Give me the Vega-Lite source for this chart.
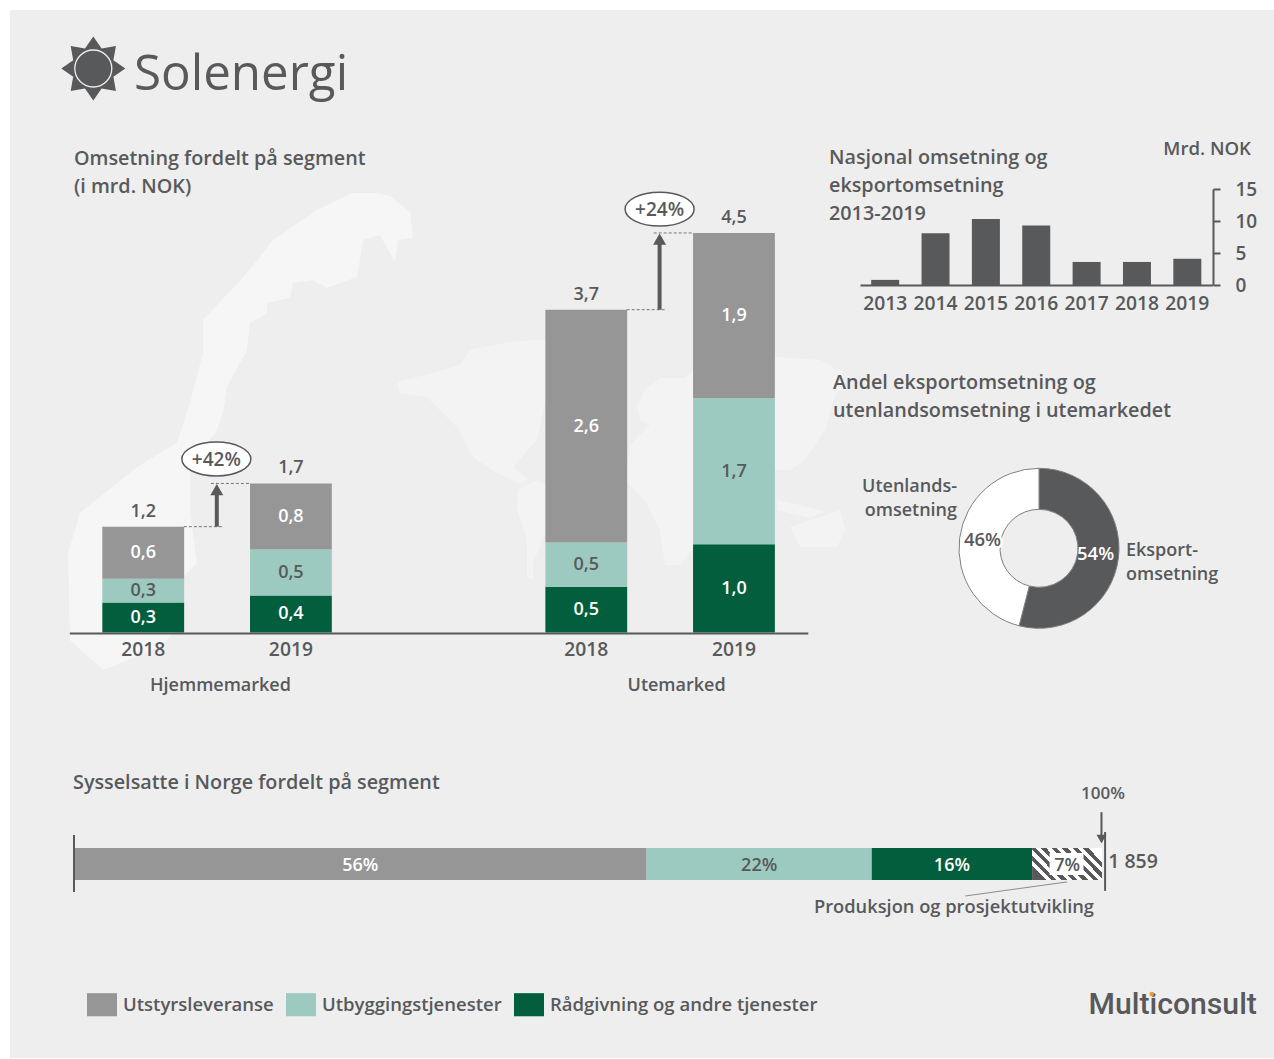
{"$schema":"https://vega.github.io/schema/vega-lite/v6.json","width":1274,"height":1059,"autosize":{"type":"none"},"padding":0,"background":"#ffffff",
"config":{"view":{"stroke":null},"font":"Open Sans","text":{"font":"Open Sans","fontWeight":600,"color":"#58595b","baseline":"middle","dy":1.5},"axis":{"labelFont":"Open Sans","labelFontWeight":600,"labelColor":"#58595b","domainColor":"#58595b","tickColor":"#58595b","grid":false,"title":null}},
"resolve":{"scale":{"x":"independent","y":"independent","color":"independent","theta":"independent"}},
"layer":[
{"data":{"values":[{"panel":"background"}]},"mark":{"type":"rect","x":10,"y":10,"x2":1274,"y2":1058,"fill":"#eeeeee"},"encoding":{}},
{"data":{"values":[{"shape":"Norge"}]},"mark":{"type":"point","x":0,"y":0,"size":4,"filled":true,"fill":"#f6f6f6","opacity":1,"strokeWidth":0,"shape":"M377 193 L390 196 L410 212 L413 238 L398 240 L395 262 L380 235 L363 240 L357 277 L327 288 L313 280 L293 283 L290 298 L267 303 L267 313 L250 323 L247 350 L227 387 L223 413 L217 430 L190 467 L190 513 L197 563 L180 580 L173 633 L160 647 L103 670 L70 640 L68 553 L80 513 L137 467 L177 443 L190 403 L203 353 L203 320 L247 273 L273 240 L317 210 L353 193 Z"},"encoding":{}},
{"data":{"values":[{"shape":"Verden"}]},"mark":{"type":"point","x":0,"y":0,"size":4,"filled":true,"fill":"#f3f3f3","opacity":1,"strokeWidth":0,"shape":"M397 382 L425 375 L460 365 L470 350 L510 342 L600 335 L620 350 L590 385 L547 393 L537 440 L513 467 L530 480 L518 483 L497 473 L473 457 L457 427 L427 397 L400 393 Z M518 490 L537 480 L570 500 L547 530 L533 563 L533 580 L527 577 L527 540 L517 510 Z M637 407 L645 390 L660 378 L685 378 L700 365 L777 357 L820 360 L842 372 L845 385 L835 395 L825 430 L805 460 L790 470 L770 470 L745 490 L735 470 L720 455 L700 440 L730 470 L715 490 L720 510 L700 540 L680 565 L665 565 L660 530 L645 500 L625 480 L630 445 L650 425 L640 420 Z M777 500 L800 505 L825 512 L810 518 L777 510 Z M790 527 L820 517 L840 510 L845 530 L837 547 L800 547 Z"},"encoding":{}},
{"data":{"values":[{"shape":"Sol"}]},"mark":{"type":"point","x":93.3,"y":68.5,"size":4096,"filled":true,"fill":"#58595b","opacity":1,"strokeWidth":0,"shape":"M0 -1 L0.26 -0.628 L0.707 -0.707 L0.628 -0.26 L1 0 L0.628 0.26 L0.707 0.707 L0.26 0.628 L0 1 L-0.26 0.628 L-0.707 0.707 L-0.628 0.26 L-1 0 L-0.628 -0.26 L-0.707 -0.707 L-0.26 -0.628 Z"},"encoding":{}},
{"data":{"values":[{"shape":"Solring"}]},"mark":{"type":"point","x":93.3,"y":68.5,"size":1369,"shape":"circle","filled":false,"stroke":"#eeeeee","opacity":1,"strokeWidth":1.3},"encoding":{}},
{"data":{"values":[{"label":"Solenergi"}]},"mark":{"type":"text","x":134,"y":73,"align":"left","fontSize":49.3,"fontWeight":400},"encoding":{"text":{"field":"label"}}},
{"data":{"values":[{"label":"Omsetning fordelt på segment\n(i mrd. NOK)"}]},"mark":{"type":"text","x":74,"y":157.5,"align":"left","fontSize":19.8,"lineHeight":28,"lineBreak":"\n"},"encoding":{"text":{"field":"label"}}},
{"data":{"values":[{"label":"Nasjonal omsetning og\neksportomsetning\n2013-2019"}]},"mark":{"type":"text","x":829,"y":156.5,"align":"left","fontSize":19.8,"lineHeight":28,"lineBreak":"\n"},"encoding":{"text":{"field":"label"}}},
{"data":{"values":[{"label":"Mrd. NOK"}]},"mark":{"type":"text","x":1251,"y":147.5,"align":"right","fontSize":18.6},"encoding":{"text":{"field":"label"}}},
{"data":{"values":[{"label":"Andel eksportomsetning og\nutenlandsomsetning i utemarkedet"}]},"mark":{"type":"text","x":833,"y":381.5,"align":"left","fontSize":19.8,"lineHeight":28,"lineBreak":"\n"},"encoding":{"text":{"field":"label"}}},
{"data":{"values":[{"label":"Sysselsatte i Norge fordelt på segment"}]},"mark":{"type":"text","x":73,"y":781.5,"align":"left","fontSize":19.8},"encoding":{"text":{"field":"label"}}},
{"data":{"values":[{"label":"Utenlands-\nomsetning"}]},"mark":{"type":"text","x":957,"y":485.5,"align":"right","fontSize":18,"lineHeight":23.5,"lineBreak":"\n"},"encoding":{"text":{"field":"label"}}},
{"data":{"values":[{"label":"Eksport-\nomsetning"}]},"mark":{"type":"text","x":1126,"y":549.5,"align":"left","fontSize":18,"lineHeight":23.5,"lineBreak":"\n"},"encoding":{"text":{"field":"label"}}},
{"data":{"values":[{"label":"Multiconsult"}]},"mark":{"type":"text","x":1088.5,"y":1003.5,"align":"left","font":"Roboto","fontSize":30.2,"fontWeight":500},"encoding":{"text":{"field":"label"}}},
{"data":{"values":[{"shape":"Logoprikk"}]},"mark":{"type":"point","x":1151.7,"y":994,"size":20,"shape":"circle","filled":true,"fill":"#f39a2b","opacity":1},"encoding":{}},
{"data":{"values":[
{"bar":"H2018","segment":"Rådgivning og andre tjenester","rank":1,"value":0.34},
{"bar":"H2018","segment":"Utbyggingstjenester","rank":2,"value":0.27},
{"bar":"H2018","segment":"Utstyrsleveranse","rank":3,"value":0.59},
{"bar":"H2019","segment":"Rådgivning og andre tjenester","rank":1,"value":0.42},
{"bar":"H2019","segment":"Utbyggingstjenester","rank":2,"value":0.52},
{"bar":"H2019","segment":"Utstyrsleveranse","rank":3,"value":0.75},
{"bar":"U2018","segment":"Rådgivning og andre tjenester","rank":1,"value":0.52},
{"bar":"U2018","segment":"Utbyggingstjenester","rank":2,"value":0.5},
{"bar":"U2018","segment":"Utstyrsleveranse","rank":3,"value":2.64},
{"bar":"U2019","segment":"Rådgivning og andre tjenester","rank":1,"value":1.0},
{"bar":"U2019","segment":"Utbyggingstjenester","rank":2,"value":1.66},
{"bar":"U2019","segment":"Utstyrsleveranse","rank":3,"value":1.87}]},
"transform":[{"stack":"value","groupby":["bar"],"sort":[{"field":"rank"}],"as":["y0","y1"]},{"calculate":"(datum.y0+datum.y1)/2","as":"mid"},{"calculate":"replace(format(datum.value,'.1f'),'.',',')","as":"label"},{"joinaggregate":[{"op":"sum","field":"value","as":"total"}],"groupby":["bar"]},{"calculate":"replace(format(datum.total,'.1f'),'.',',')","as":"totalLabel"}],
"encoding":{"x":{"field":"bar","type":"nominal","scale":{"domain":["H2018","H2019","gap","U2018","U2019"],"range":[69.4,807.8],"paddingInner":0.446,"paddingOuter":0.223},"sort":null,"axis":{"orient":"bottom","offset":-426,"zindex":1,"ticks":false,"labelAngle":0,"labelFontSize":19.3,"labelPadding":7.5,"domainWidth":2,"labelExpr":"datum.value==='gap'?'':slice(datum.value,1)"}}},
"layer":[
{"mark":{"type":"bar"},"encoding":{"y":{"field":"y0","type":"quantitative","scale":{"domain":[0,5],"range":[632.5,191.5]},"axis":null},"y2":{"field":"y1"},"color":{"field":"segment","type":"nominal","scale":{"domain":["Utstyrsleveranse","Utbyggingstjenester","Rådgivning og andre tjenester"],"range":["#969696","#9ccac1","#025e3c"]},"legend":{"orient":"none","legendX":87,"legendY":989.5,"direction":"horizontal","columns":3,"title":null,"symbolType":"M-1 -0.77 H1 V0.77 H-1 Z","symbolSize":900,"symbolStrokeWidth":0,"symbolOpacity":1,"labelFont":"Open Sans","labelFontSize":18.5,"labelFontWeight":600,"labelColor":"#58595b","labelOffset":6,"columnPadding":12,"labelLimit":400}}}},
{"mark":{"type":"text","align":"center","fontSize":18,"dy":0.5},"encoding":{"y":{"field":"mid","type":"quantitative","scale":{"domain":[0,5],"range":[632.5,191.5]},"axis":null},"text":{"field":"label"},"color":{"condition":{"test":"datum.rank===2","value":"#58595b"},"value":"#ffffff"}}},
{"transform":[{"filter":"datum.rank===3"}],"mark":{"type":"text","align":"center","fontSize":18,"dy":-15},"encoding":{"y":{"field":"total","type":"quantitative","scale":{"domain":[0,5],"range":[632.5,191.5]},"axis":null},"text":{"field":"totalLabel"}}}
]},
{"encoding":{"x":{"field":"pos","type":"quantitative","scale":{"domain":[0,1],"range":[143,290.6]},"axis":null},"y":{"field":"value","type":"quantitative","scale":{"domain":[0,5],"range":[632.5,191.5]},"axis":null}},
"layer":[
{"data":{"values":[{"pos":0.277,"pos2":0.54,"value":1.2},{"pos":0.46,"pos2":0.725,"value":1.69},{"pos":3.277,"pos2":3.54,"value":3.66},{"pos":3.46,"pos2":3.725,"value":4.53}]},"mark":{"type":"rule","color":"#777777","strokeWidth":1,"strokeDash":[3,2]},"encoding":{"x2":{"field":"pos2"}}},
{"data":{"values":[{"pos":0.5,"value":1.2,"head":1.62},{"pos":3.5,"value":3.66,"head":4.46}]},"mark":{"type":"rule","color":"#58595b","strokeWidth":4},"encoding":{"y2":{"field":"head"}}},
{"data":{"values":[{"pos":0.5,"value":1.62},{"pos":3.5,"value":4.46}]},"mark":{"type":"point","shape":"triangle-up","size":169,"filled":true,"color":"#58595b","opacity":1}},
{"data":{"values":[{"pos":0.497,"value":1.967},{"pos":3.5,"value":4.8}]},"mark":{"type":"point","shape":"M -1 0 A 1 0.49 0 1 1 1 0 A 1 0.49 0 1 1 -1 0 Z","size":4761,"filled":true,"fill":"#ffffff","stroke":"#58595b","strokeWidth":1.5,"opacity":1}},
{"data":{"values":[{"pos":0.497,"value":1.967,"label":"+42%"},{"pos":3.5,"value":4.8,"label":"+24%"}]},"mark":{"type":"text","align":"center","fontSize":19,"dy":0.5},"encoding":{"text":{"field":"label"}}},
{"data":{"values":[{"pos":0.525,"value":0,"label":"Hjemmemarked"},{"pos":3.615,"value":0,"label":"Utemarked"}]},"mark":{"type":"text","align":"center","fontSize":18,"dy":53},"encoding":{"text":{"field":"label"}}}
]},
{"data":{"values":[{"year":"2013","value":0.8},{"year":"2014","value":8.1},{"year":"2015","value":10.3},{"year":"2016","value":9.3},{"year":"2017","value":3.6},{"year":"2018","value":3.6},{"year":"2019","value":4.1}]},"mark":{"type":"bar","color":"#58595b"},"encoding":{"x":{"field":"year","type":"ordinal","scale":{"range":[860,1212.5],"paddingInner":0.444,"paddingOuter":0.222},"axis":{"orient":"bottom","offset":-774,"zindex":1,"ticks":false,"labelAngle":0,"labelFontSize":19.3,"labelPadding":9.5,"domainWidth":2}},"y":{"field":"value","type":"quantitative","scale":{"domain":[0,15],"range":[285,189]},"axis":{"orient":"right","offset":-61,"zindex":1,"values":[0,5,10,15],"tickSize":7,"labelPadding":15,"labelFontSize":19,"domainWidth":2,"tickWidth":2,"labelAlign":"left"}}}},
{"data":{"values":[{"part":"Eksportomsetning","rank":1,"share":54,"label":"54%"},{"part":"Utenlandsomsetning","rank":2,"share":46,"label":"46%"}]},
"encoding":{"x":{"datum":0.5,"type":"quantitative","scale":{"domain":[0,1],"range":[959,1119]},"axis":null},"y":{"datum":0.5,"type":"quantitative","scale":{"domain":[0,1],"range":[468.3,628.3]},"axis":null},"theta":{"field":"share","type":"quantitative","stack":true},"order":{"field":"rank"}},
"layer":[
{"mark":{"type":"arc","innerRadius":39,"outerRadius":80,"stroke":"#7f7f7f","strokeWidth":1},"encoding":{"color":{"field":"part","type":"nominal","scale":{"domain":["Eksportomsetning","Utenlandsomsetning"],"range":["#58595b","#ffffff"]},"legend":null}}},
{"mark":{"type":"text","radius":57,"align":"center","fontSize":18.5,"stroke":"#ffffff","strokeWidth":5,"dy":-1},"encoding":{"text":{"field":"label"},"opacity":{"condition":{"test":"datum.rank===2","value":1},"value":0}}},
{"mark":{"type":"text","radius":57,"align":"center","fontSize":18.5,"dy":-1},"encoding":{"text":{"field":"label"},"color":{"condition":{"test":"datum.rank===1","value":"#ffffff"},"value":"#58595b"}}}
]},
{"encoding":{"x":{"field":"x","type":"quantitative","scale":{"domain":[0,100],"range":[74,1102]},"axis":null},"y":{"field":"y","type":"quantitative","scale":{"domain":[0,1],"range":[880,848]},"axis":null}},
"layer":[
{"data":{"values":[{"segment":"Utstyrsleveranse","rank":1,"share":55.7},{"segment":"Utbyggingstjenester","rank":2,"share":21.9},{"segment":"Rådgivning og andre tjenester","rank":3,"share":15.6},{"segment":"Produksjon og prosjektutvikling","rank":4,"share":6.8}]},
"transform":[{"stack":"share","sort":[{"field":"rank"}],"as":["x","x1"]},{"calculate":"(datum.x+datum.x1)/2","as":"mid"},{"calculate":"format(round(datum.share),'d')+'%'","as":"label"},{"calculate":"0","as":"y"},{"calculate":"1","as":"y1"}],
"layer":[
{"transform":[{"filter":"datum.rank<4"}],"mark":{"type":"rect"},"encoding":{"x2":{"field":"x1"},"y2":{"field":"y1"},"color":{"field":"segment","type":"nominal","scale":{"domain":["Utstyrsleveranse","Utbyggingstjenester","Rådgivning og andre tjenester"],"range":["#969696","#9ccac1","#025e3c"]},"legend":null}}},
{"transform":[{"filter":"datum.rank===4"}],"mark":{"type":"rect","fill":{"gradient":"linear","x1":0,"y1":0.7254,"x2":1,"y2":0.2746,"stops":[{"offset":0,"color":"#58595b"},{"offset":0.0625,"color":"#58595b"},{"offset":0.0625,"color":"#ffffff"},{"offset":0.125,"color":"#ffffff"},{"offset":0.125,"color":"#58595b"},{"offset":0.1875,"color":"#58595b"},{"offset":0.1875,"color":"#ffffff"},{"offset":0.25,"color":"#ffffff"},{"offset":0.25,"color":"#58595b"},{"offset":0.3125,"color":"#58595b"},{"offset":0.3125,"color":"#ffffff"},{"offset":0.375,"color":"#ffffff"},{"offset":0.375,"color":"#58595b"},{"offset":0.4375,"color":"#58595b"},{"offset":0.4375,"color":"#ffffff"},{"offset":0.5,"color":"#ffffff"},{"offset":0.5,"color":"#58595b"},{"offset":0.5625,"color":"#58595b"},{"offset":0.5625,"color":"#ffffff"},{"offset":0.625,"color":"#ffffff"},{"offset":0.625,"color":"#58595b"},{"offset":0.6875,"color":"#58595b"},{"offset":0.6875,"color":"#ffffff"},{"offset":0.75,"color":"#ffffff"},{"offset":0.75,"color":"#58595b"},{"offset":0.8125,"color":"#58595b"},{"offset":0.8125,"color":"#ffffff"},{"offset":0.875,"color":"#ffffff"},{"offset":0.875,"color":"#58595b"},{"offset":0.9375,"color":"#58595b"},{"offset":0.9375,"color":"#ffffff"},{"offset":1,"color":"#ffffff"}]}},"encoding":{"x2":{"field":"x1"},"y2":{"field":"y1"}}},
{"transform":[{"filter":"datum.rank===4"}],"mark":{"type":"bar","color":"#ffffff"},"encoding":{"x":{"datum":94.9},"x2":{"datum":98.2},"y":{"datum":0.16},"y2":{"datum":0.84}}},
{"mark":{"type":"text","align":"center","fontSize":18},"encoding":{"x":{"field":"mid"},"y":{"datum":0.5},"text":{"field":"label"},"color":{"condition":{"test":"datum.rank===2||datum.rank===4","value":"#58595b"},"value":"#ffffff"}}}
]},
{"data":{"values":[{"x":0,"y":-0.375,"y1":1.406},{"x":100.3,"y":-0.34,"y1":1.5}]},"mark":{"type":"rule","color":"#58595b","strokeWidth":2},"encoding":{"y2":{"field":"y1"}}},
{"data":{"values":[{"x":99.95,"y":1.2,"y1":2.12}]},"mark":{"type":"rule","color":"#58595b","strokeWidth":2},"encoding":{"y2":{"field":"y1"}}},
{"data":{"values":[{"x":99.95,"y":1.28}]},"mark":{"type":"point","shape":"triangle-down","size":100,"filled":true,"color":"#58595b","opacity":1}},
{"data":{"values":[{"x":86.7,"x1":96.6,"y":-0.5,"y1":-0.06}]},"mark":{"type":"rule","color":"#8c8c8c","strokeWidth":1},"encoding":{"x2":{"field":"x1"},"y2":{"field":"y1"}}},
{"data":{"values":[{"x":100.1,"y":2.72,"label":"100%"}]},"mark":{"type":"text","align":"center","fontSize":17},"encoding":{"text":{"field":"label"}}},
{"data":{"values":[{"x":100.6,"y":0.6,"label":"1 859"}]},"mark":{"type":"text","align":"left","fontSize":19.5},"encoding":{"text":{"field":"label"}}},
{"data":{"values":[{"x":85.6,"y":-0.84,"label":"Produksjon og prosjektutvikling"}]},"mark":{"type":"text","align":"center","fontSize":18.3},"encoding":{"text":{"field":"label"}}}
]}
]}
